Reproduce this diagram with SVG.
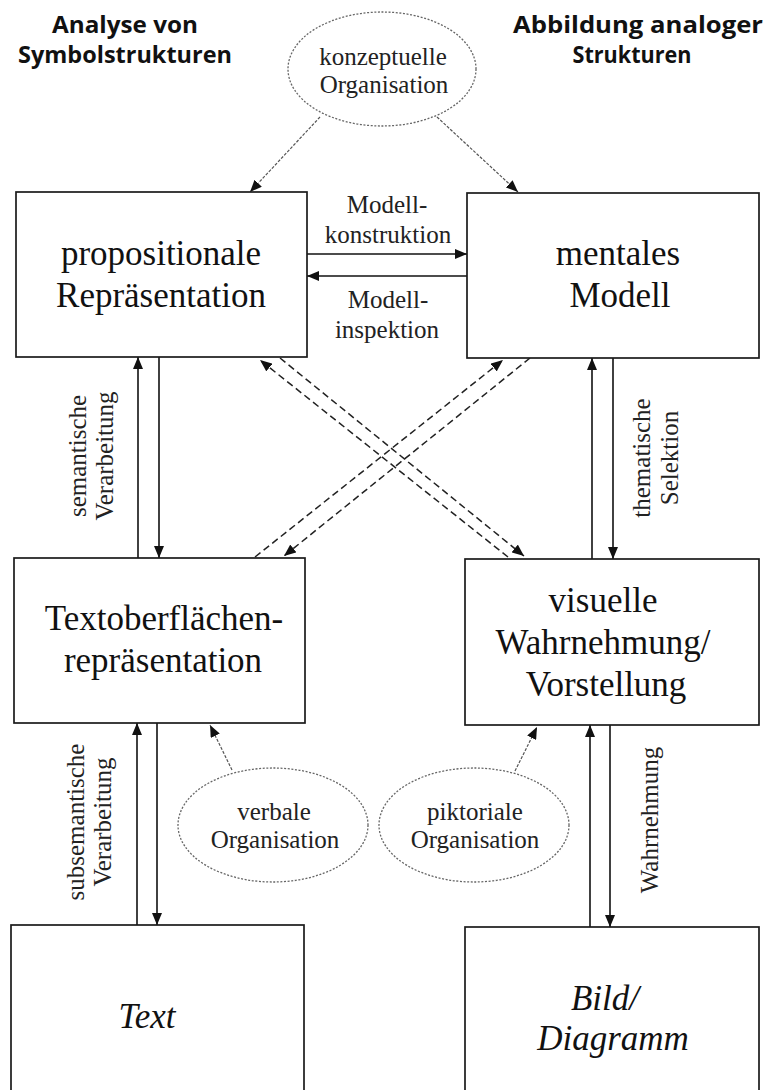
<svg xmlns="http://www.w3.org/2000/svg" width="766" height="1090" viewBox="0 0 766 1090">
<style>
.bg{fill:#fff}
.box{fill:#fff;stroke:#1a1a1a;stroke-width:1.7}
.ell{fill:#fff;stroke:#666;stroke-width:1.3;stroke-dasharray:2 1.6}
.main{font-family:"Liberation Serif","Times New Roman",serif;font-size:35px;fill:#111;text-anchor:middle}
.it{font-style:italic}
.lab{font-family:"Liberation Serif","Times New Roman",serif;font-size:25px;fill:#222;text-anchor:middle}
.head{font-family:"Open Sans","Liberation Sans",sans-serif;font-weight:700;font-size:23px;fill:#111;text-anchor:middle}
.arr{stroke:#111;stroke-width:1.6;fill:none}
.dash{stroke:#222;stroke-width:1.5;fill:none;stroke-dasharray:7 4}
.thin{stroke:#555;stroke-width:1.2;fill:none;stroke-dasharray:3 1.5}
</style>
<defs>
<marker id="ah" viewBox="0 0 12 10" refX="12" refY="5" markerWidth="12" markerHeight="10" orient="auto" markerUnits="userSpaceOnUse">
<path d="M0,0 L12,5 L0,10 z" fill="#111"/>
</marker>
</defs>
<rect class="bg" x="0" y="0" width="766" height="1090"/>

<g id="headers">
<text class="head" x="125" y="33" textLength="146" lengthAdjust="spacingAndGlyphs">Analyse von</text>
<text class="head" x="125" y="63" textLength="214" lengthAdjust="spacingAndGlyphs">Symbolstrukturen</text>
<text class="head" x="638" y="33" textLength="250" lengthAdjust="spacingAndGlyphs">Abbildung analoger</text>
<text class="head" x="632" y="63" textLength="119" lengthAdjust="spacingAndGlyphs">Strukturen</text>
</g>

<g id="connectors">
<line class="thin" x1="320" y1="117" x2="250" y2="192" marker-end="url(#ah)"/>
<line class="thin" x1="437" y1="117" x2="518" y2="192" marker-end="url(#ah)"/>
<line class="arr" x1="307" y1="254" x2="467" y2="254" marker-end="url(#ah)"/>
<line class="arr" x1="467" y1="276" x2="307" y2="276" marker-end="url(#ah)"/>
<line class="arr" x1="138" y1="558" x2="138" y2="357" marker-end="url(#ah)"/>
<line class="arr" x1="159" y1="357" x2="159" y2="558" marker-end="url(#ah)"/>
<line class="arr" x1="592" y1="559" x2="592" y2="358" marker-end="url(#ah)"/>
<line class="arr" x1="613" y1="358" x2="613" y2="559" marker-end="url(#ah)"/>
<line class="arr" x1="137" y1="925" x2="137" y2="723" marker-end="url(#ah)"/>
<line class="arr" x1="157" y1="723" x2="157" y2="925" marker-end="url(#ah)"/>
<line class="arr" x1="590" y1="927" x2="590" y2="725" marker-end="url(#ah)"/>
<line class="arr" x1="610" y1="725" x2="610" y2="927" marker-end="url(#ah)"/>
<line class="dash" x1="508" y1="557" x2="260" y2="360" marker-end="url(#ah)"/>
<line class="dash" x1="280" y1="358" x2="524" y2="556" marker-end="url(#ah)"/>
<line class="dash" x1="255" y1="557" x2="503" y2="360" marker-end="url(#ah)"/>
<line class="dash" x1="530" y1="358" x2="284" y2="556" marker-end="url(#ah)"/>
<line class="thin" x1="232" y1="770" x2="210" y2="725" marker-end="url(#ah)"/>
<line class="thin" x1="515" y1="771" x2="537" y2="727" marker-end="url(#ah)"/>
</g>

<g id="connector-labels">
<text class="lab" x="387" y="213">Modell-</text>
<text class="lab" x="388" y="243">konstruktion</text>
<text class="lab" x="388" y="308">Modell-</text>
<text class="lab" x="387" y="338">inspektion</text>
<text class="lab" transform="translate(86,456) rotate(-90)">semantische</text>
<text class="lab" transform="translate(113,456) rotate(-90)">Verarbeitung</text>
<text class="lab" transform="translate(650,458) rotate(-90)">thematische</text>
<text class="lab" transform="translate(678,458) rotate(-90)">Selektion</text>
<text class="lab" transform="translate(84,822) rotate(-90)">subsemantische</text>
<text class="lab" transform="translate(111,822) rotate(-90)">Verarbeitung</text>
<text class="lab" transform="translate(658,820) rotate(-90)">Wahrnehmung</text>
</g>

<g id="konzeptuelle">
<ellipse class="ell" cx="382" cy="69" rx="94" ry="57"/>
<text class="lab" x="383" y="65">konzeptuelle</text>
<text class="lab" x="384" y="93">Organisation</text>
</g>

<g id="propositionale">
<rect class="box" x="16" y="192" width="291" height="165"/>
<text class="main" x="161" y="265">propositionale</text>
<text class="main" x="161" y="307">Repräsentation</text>
</g>

<g id="mentales">
<rect class="box" x="467" y="193" width="292" height="165"/>
<text class="main" x="618" y="265">mentales</text>
<text class="main" x="620" y="307">Modell</text>
</g>

<g id="textoberflaeche">
<rect class="box" x="14" y="558" width="291" height="165"/>
<text class="main" x="164" y="630">Textoberflächen-</text>
<text class="main" x="163" y="672">repräsentation</text>
</g>

<g id="visuelle">
<rect class="box" x="465" y="559" width="294" height="166"/>
<text class="main" x="603" y="612">visuelle</text>
<text class="main" x="603" y="654">Wahrnehmung/</text>
<text class="main" x="606" y="696">Vorstellung</text>
</g>

<g id="verbale">
<ellipse class="ell" cx="273" cy="825" rx="95" ry="57"/>
<text class="lab" x="274" y="820">verbale</text>
<text class="lab" x="275" y="848">Organisation</text>
</g>

<g id="piktoriale">
<ellipse class="ell" cx="474" cy="825" rx="95" ry="57"/>
<text class="lab" x="475" y="820">piktoriale</text>
<text class="lab" x="475" y="848">Organisation</text>
</g>

<g id="text">
<rect class="box" x="11" y="925" width="293" height="170"/>
<text class="main it" x="147" y="1028">Text</text>
</g>

<g id="bild">
<rect class="box" x="465" y="927" width="294" height="170"/>
<text class="main it" x="605" y="1010">Bild/</text>
<text class="main it" x="613" y="1050">Diagramm</text>
</g>
</svg>
